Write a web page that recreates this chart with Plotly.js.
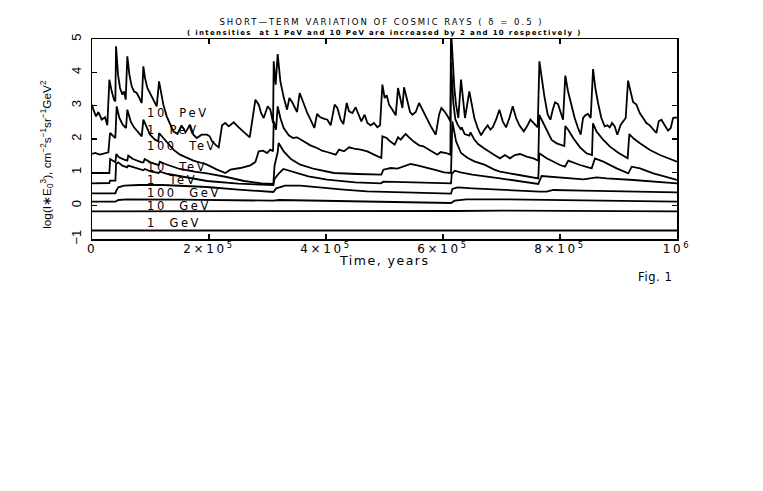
<!DOCTYPE html>
<html><head><meta charset="utf-8">
<script src="https://cdn.plot.ly/plotly-3.0.1.min.js"></script>
<style>
body{margin:0;background:#fff}
.annotation-text{letter-spacing:2.6px}
.annotation[data-index="8"] .annotation-text{letter-spacing:1.35px}
.annotation[data-index="9"] .annotation-text{letter-spacing:0.6px}
.annotation[data-index="10"] .annotation-text{letter-spacing:1.5px}
.annotation[data-index="11"] .annotation-text{letter-spacing:0px}
.gtitle{letter-spacing:2px}
.xtick text{letter-spacing:2.6px}
</style>
</head><body>
<div id="chart" style="width:763px;height:491px"></div>
<script>
// Time in thousands of years (kyr); values are log10(I*E0^3)
const energies = ['1 GeV','10 GeV','100 GeV','1 TeV','10 TeV','100 TeV','1 PeV','10 PeV'];

const t1GeV = [0, 500, 1000];
const v1GeV = [-0.745, -0.745, -0.745];

const t10GeV = [0, 300, 600, 620, 700, 1000];
const v10GeV = [-0.17, -0.17, -0.18, -0.16, -0.15, -0.17];

const t100GeV = [0, 40, 45, 60, 150, 250, 310, 320, 356, 400, 500, 600, 613.7, 620, 640, 700, 800, 1000];
const v100GeV = [0.12, 0.12, 0.17, 0.19, 0.18, 0.16, 0.15, 0.17, 0.16, 0.15, 0.12, 0.08, 0.08, 0.15, 0.19, 0.19, 0.16, 0.12];

const t1TeV = [0, 40, 41.5, 45, 55, 80, 120, 196.6, 250, 300, 310, 315, 330, 356, 396.6, 430, 470, 520, 560, 613.7, 616, 625, 650, 697.4, 764.6, 777.2, 788.6, 839.9, 1000];
const v1TeV = [0.37, 0.37, 0.45, 0.55, 0.6, 0.62, 0.62, 0.56, 0.48, 0.42, 0.41, 0.52, 0.6, 0.6, 0.53, 0.48, 0.43, 0.4, 0.38, 0.36, 0.5, 0.55, 0.52, 0.47, 0.42, 0.42, 0.47, 0.45, 0.4];

const t10TeV = [0, 29.7, 31, 40, 41.2, 45, 52, 60, 62, 75, 88, 90, 100, 114, 116, 130, 160, 196.6, 250, 300, 310, 312, 320, 327, 340, 356, 370, 402, 450, 494, 498, 550, 601.8, 613.7, 615, 620, 630, 650, 697.4, 762.9, 768.6, 782.9, 811.4, 839.9, 862.6, 879.7, 925.3, 1000];
const v10TeV = [0.67, 0.68, 0.75, 0.75, 1.25, 1.3, 1.2, 1.15, 1.2, 1.12, 1.06, 1.1, 1.03, 0.98, 1.02, 0.95, 0.85, 0.74, 0.66, 0.63, 0.62, 0.8, 0.98, 1.1, 1.03, 0.95, 0.88, 0.78, 0.7, 0.67, 0.72, 0.7, 0.67, 0.67, 0.95, 1.05, 1.0, 0.93, 0.82, 0.65, 0.89, 0.87, 0.82, 0.79, 0.85, 0.82, 0.77, 0.67];

const t100TeV = [0, 20, 29.7, 31, 36, 40, 41.5, 46, 55, 60.4, 62, 70, 85, 88, 90, 100, 114, 116, 125, 150, 175, 196.6, 230, 260, 290, 310, 312, 317.4, 319, 327.7, 340, 356, 380, 402, 413.7, 453.6, 494.6, 498, 510.6, 522, 533.4, 544.8, 556.2, 567.6, 584.7, 601.8, 613.7, 616, 622.3, 630.8, 642.2, 653.6, 670.7, 687.8, 697.4, 730, 762.9, 764.6, 777.2, 800, 808.5, 814.2, 834.2, 854.1, 859.8, 874.1, 896.8, 916.8, 922.5, 936.7, 959.5, 1000];
const v100TeV = [0.98, 0.97, 0.98, 1.4, 1.35, 1.3, 1.55, 1.45, 1.38, 1.35, 1.5, 1.4, 1.3, 1.3, 1.4, 1.3, 1.22, 1.32, 1.25, 1.1, 1.02, 0.97, 0.86, 0.74, 0.67, 0.65, 1.2, 1.6, 1.88, 1.63, 1.4, 1.23, 1.1, 1.03, 0.98, 0.95, 0.93, 1.08, 1.13, 1.11, 1.18, 1.25, 1.21, 1.15, 1.08, 1.0, 0.98, 2.53, 1.93, 1.58, 1.43, 1.33, 1.23, 1.08, 1.02, 0.92, 0.82, 1.57, 1.42, 1.22, 1.17, 1.35, 1.22, 1.12, 1.42, 1.32, 1.12, 0.97, 1.17, 1.12, 0.97, 0.77];

const t1PeV = [0, 5.2, 13.7, 22.3, 28, 30.8, 35.4, 39.9, 42.2, 46.8, 52.5, 58.2, 60.4, 66.1, 71.8, 79.3, 85, 87.8, 93.5, 99.2, 107.7, 113.4, 114.6, 122, 130.5, 139.1, 150.5, 161.9, 173.3, 187.5, 196.6, 213.7, 228, 236.5, 253.6, 270.7, 279.3, 285, 292.4, 299.2, 304.9, 309.5, 310.6, 314.6, 317.4, 322, 327.7, 336.3, 343.7, 350.5, 357.3, 364.8, 373.3, 384.7, 393.3, 401.8, 408, 416.6, 422.3, 430.8, 439.4, 447.9, 459.3, 470.7, 482.1, 494.6, 496.4, 503.8, 509.5, 517.4, 523.1, 527.7, 533.4, 536.3, 542, 549.4, 559.1, 566.5, 576.1, 584.7, 590.4, 596.1, 605.2, 612.6, 613.7, 617.6, 621, 625.1, 630.8, 632, 637, 645, 647, 653, 660, 670, 680, 690, 697.4, 705.9, 714.5, 723, 731.6, 743, 754.4, 762.9, 764.6, 768.6, 777.2, 785.7, 794.3, 802.8, 807.4, 809.1, 814.2, 822.8, 834.2, 845.6, 854.7, 856.4, 862.6, 874.1, 885.4, 899.7, 915.6, 918.5, 925.3, 936.7, 953.8, 970.9, 988, 1000];
const v1PeV = [1.55, 1.58, 1.53, 1.58, 1.6, 2.18, 2.11, 2.03, 2.98, 2.63, 2.43, 2.33, 2.88, 2.53, 2.35, 2.18, 2.08, 2.58, 2.33, 2.13, 1.98, 1.93, 2.18, 2.03, 1.83, 1.68, 1.53, 1.43, 1.35, 1.28, 1.23, 1.08, 0.98, 1.08, 1.13, 1.21, 1.31, 1.63, 1.65, 1.58, 1.68, 1.63, 2.53, 2.28, 2.98, 2.63, 2.33, 2.11, 2.03, 2.05, 1.98, 1.88, 1.81, 1.73, 1.65, 1.61, 1.58, 1.53, 1.68, 1.63, 1.75, 1.71, 1.68, 1.63, 1.53, 1.43, 2.08, 2.03, 1.93, 1.83, 2.05, 1.98, 2.1, 2.15, 2.05, 1.93, 1.81, 1.78, 1.68, 1.58, 1.53, 1.61, 1.58, 1.53, 4.3, 3.1, 2.6, 2.43, 2.28, 2.35, 2.15, 2.1, 2.2, 2.0, 1.85, 1.72, 1.6, 1.5, 1.42, 1.52, 1.42, 1.52, 1.55, 1.47, 1.42, 1.35, 2.72, 2.57, 2.27, 1.97, 1.87, 1.82, 1.79, 2.39, 2.27, 2.02, 1.75, 1.57, 1.52, 2.47, 2.22, 1.97, 1.77, 1.59, 1.42, 2.15, 2.02, 1.87, 1.67, 1.52, 1.4, 1.32];

const t10PeV = [0, 2.3, 6.9, 10.9, 16.6, 22.3, 26.2, 29.7, 33.7, 37.6, 39.9, 41.1, 44.5, 47.9, 51.9, 54.7, 57.6, 60.4, 63.9, 67.9, 71.8, 76.4, 81, 85, 87.8, 90.6, 94.6, 99.2, 103.8, 107.7, 110.6, 114.6, 118, 122, 127.7, 133.4, 139.1, 146, 153, 160, 167.6, 173.3, 179, 187.5, 196.6, 201.2, 205.2, 210.9, 216.6, 222.3, 228, 233.7, 242.2, 250.8, 259.3, 269.6, 279.3, 285, 289, 293.5, 300.3, 304.9, 309.5, 310.6, 314, 317.4, 322, 327.7, 333.4, 337.4, 342, 346.5, 350.5, 355, 359, 363.6, 368.7, 374.4, 380.1, 384.7, 390.4, 396.1, 402.3, 408, 414.8, 419.4, 425.1, 429.7, 435.4, 439.4, 445.1, 450.8, 456.5, 460.4, 466.1, 470.7, 476.4, 482.1, 487.8, 492.4, 496.4, 500.3, 503.8, 507.8, 513.5, 519.2, 523.1, 527.7, 530.6, 533.4, 538, 543.7, 547.7, 553.4, 559.1, 564.8, 573.3, 580.1, 587.6, 593.3, 597.2, 602.3, 608, 612.6, 613.7, 616.6, 619.4, 622.3, 626.2, 630.8, 634.2, 637.6, 645, 649, 653.6, 659.3, 665, 670.7, 676.4, 681, 685, 690.7, 696.4, 702.1, 707.8, 713.5, 719.2, 724.9, 730.6, 738, 743.7, 749.4, 755, 761.9, 764.8, 768.7, 773.3, 779, 783.6, 787.6, 791.5, 796.6, 801.2, 805.2, 809.1, 813.7, 819.4, 825.1, 830.8, 835.4, 839.4, 843.3, 847.9, 852.5, 856.5, 860.4, 865, 870.7, 876.4, 881, 885, 889, 893.5, 898, 903.8, 909.5, 912.3, 916.3, 920.9, 924.9, 930.6, 936.3, 942, 947.7, 953.4, 959.1, 964.8, 968.7, 973.3, 979, 984.7, 989.3, 993.3, 997.2, 1000];
const v10PeV = [3.03, 2.88, 2.68, 2.81, 2.58, 2.65, 2.41, 3.78, 3.43, 3.18, 3.13, 4.78, 3.93, 3.53, 3.33, 3.43, 3.18, 4.48, 3.93, 3.58, 3.43, 3.38, 3.23, 3.08, 4.18, 3.83, 3.53, 3.38, 3.23, 3.08, 2.98, 3.73, 3.38, 3.03, 2.68, 2.43, 2.23, 2.15, 2.41, 2.2, 2.43, 2.13, 2.03, 2.13, 2.13, 2.08, 1.93, 1.83, 1.75, 2.41, 2.48, 2.38, 2.5, 2.35, 2.21, 2.05, 3.18, 3.03, 2.78, 2.63, 2.98, 2.88, 2.48, 4.33, 3.63, 4.55, 3.73, 3.25, 2.88, 3.23, 3.11, 2.93, 2.81, 3.38, 3.18, 2.98, 2.75, 2.55, 2.33, 2.75, 2.65, 2.61, 2.58, 2.41, 3.03, 2.93, 2.58, 2.45, 3.08, 2.83, 2.78, 2.95, 2.71, 2.53, 2.73, 2.48, 2.41, 2.48, 2.35, 2.41, 3.63, 3.23, 3.31, 3.03, 2.88, 2.71, 3.53, 3.18, 2.93, 3.55, 3.18, 2.81, 2.73, 2.81, 3.08, 2.88, 2.58, 2.35, 2.13, 2.73, 2.93, 2.83, 2.68, 2.53, 5.3, 4.23, 3.53, 3.03, 2.63, 3.78, 3.13, 2.63, 3.43, 3.03, 2.63, 2.33, 2.11, 2.28, 2.41, 2.28, 2.35, 2.58, 2.88, 2.53, 2.35, 2.63, 2.98, 2.63, 2.41, 2.23, 2.38, 2.58, 2.48, 2.35, 4.33, 3.83, 3.28, 2.73, 2.58, 2.88, 3.1, 3.05, 2.83, 2.58, 3.9, 3.43, 3.03, 2.63, 2.33, 2.13, 2.63, 2.71, 2.75, 2.63, 4.1, 3.53, 3.08, 2.63, 2.38, 2.41, 2.35, 2.48, 2.38, 2.13, 2.43, 2.58, 2.63, 3.75, 3.38, 3.11, 3.03, 2.78, 2.63, 2.48, 2.41, 2.28, 2.18, 2.53, 2.58, 2.41, 2.25, 2.33, 2.63, 2.65, 2.63];

const xTickVals = [0, 2e5, 4e5, 6e5, 8e5, 1e6];
const xTickText = ['0', '2×10<sup>5</sup>', '4×10<sup>5</sup>', '6×10<sup>5</sup>', '8×10<sup>5</sup>', '10<sup>6</sup>'];
const yTickVals = [-1, 0, 1, 2, 3, 4, 5];

const series = [
  [t1GeV, v1GeV], [t10GeV, v10GeV], [t100GeV, v100GeV], [t1TeV, v1TeV],
  [t10TeV, v10TeV], [t100TeV, v100TeV], [t1PeV, v1PeV], [t10PeV, v10PeV]
];

const traces = series.map((s, i) => ({
  x: s[0].map(k => k * 1000),
  y: s[1],
  name: energies[i],
  type: 'scatter',
  mode: 'lines',
  line: {color: '#000', width: 1.8},
  hoverinfo: 'skip'
}));

// label anchor positions (layout only)
const labelX = 90600;
const labelY = [-0.51, 0.0, 0.38, 0.77, 1.17, 1.79, 2.27, 2.79];

const font = 'DejaVu Sans, Verdana, sans-serif';
const narrow = 'Liberation Sans Narrow, Liberation Sans, sans-serif';
const annotations = energies.map((e, i) => ({
  text: e.replace(' ', '  '), x: labelX, y: labelY[i], xref: 'x', yref: 'y',
  xanchor: 'left', yanchor: 'middle', showarrow: false,
  font: {family: font, size: 11.5, color: '#000'}
}));
// 8: subtitle
annotations.push({
  text: '( intensities  at 1 PeV and 10 PeV are increased by 2 and 10 respectively )',
  xref: 'paper', yref: 'paper', x: 0.5, y: 1, yshift: 6.5, xanchor: 'center', yanchor: 'middle',
  showarrow: false, font: {family: font, size: 7, color: '#000', weight: 'bold'}
});
// 9: Fig. 1
annotations.push({
  text: 'Fig. 1', xref: 'paper', yref: 'paper', x: 1.007, y: 0, xanchor: 'right', yanchor: 'middle',
  yshift: -38, showarrow: false, font: {family: font, size: 11.5, color: '#000'}
});
// 10: x axis title
annotations.push({
  text: 'Time, years', xref: 'paper', yref: 'paper', x: 0.5, y: 0, xanchor: 'center', yanchor: 'middle',
  yshift: -21, showarrow: false, font: {family: font, size: 12.5, color: '#000'}
});
// 11: y axis title
annotations.push({
  text: 'log(I∗E<sub>0</sub><sup>3</sup>), cm<sup>−2</sup>s<sup>−1</sup>sr<sup>−1</sup>GeV<sup>2</sup>',
  xref: 'paper', yref: 'paper', x: -0.077, y: 0.425, xanchor: 'center', yanchor: 'middle',
  textangle: -90, showarrow: false, font: {family: narrow, size: 11.8, color: '#000'}
});

const layout = {
  width: 763, height: 491,
  margin: {l: 92, r: 86, t: 39, b: 252},
  paper_bgcolor: '#fff', plot_bgcolor: '#fff',
  showlegend: false,
  title: {
    text: 'SHORT—TERM VARIATION OF COSMIC RAYS ( δ = 0.5 )',
    x: 0.5, xanchor: 'center', y: 1 - 22.5 / 491, yanchor: 'middle',
    font: {family: font, size: 8.5, color: '#000'}
  },
  xaxis: {
    range: [0, 1e6], tickvals: xTickVals, ticktext: xTickText, ticklabelstandoff: -2,
    ticks: 'inside', ticklen: 5, tickwidth: 1.2, tickcolor: '#000',
    showline: true, linecolor: '#000', linewidth: 1.5, mirror: 'ticks',
    showgrid: false, zeroline: false,
    tickfont: {family: font, size: 12, color: '#000'}
  },
  yaxis: {
    range: [-1, 5], tickvals: yTickVals, tickangle: -90, ticklabelstandoff: 4,
    ticks: 'inside', ticklen: 5, tickwidth: 1.2, tickcolor: '#000',
    showline: true, linecolor: '#000', linewidth: 1.5, mirror: 'ticks',
    showgrid: false, zeroline: false,
    tickfont: {family: narrow, size: 13, color: '#000'}
  },
  annotations: annotations
};

Plotly.newPlot('chart', traces, layout, {displayModeBar: false, staticPlot: true});
</script>
</body></html>
